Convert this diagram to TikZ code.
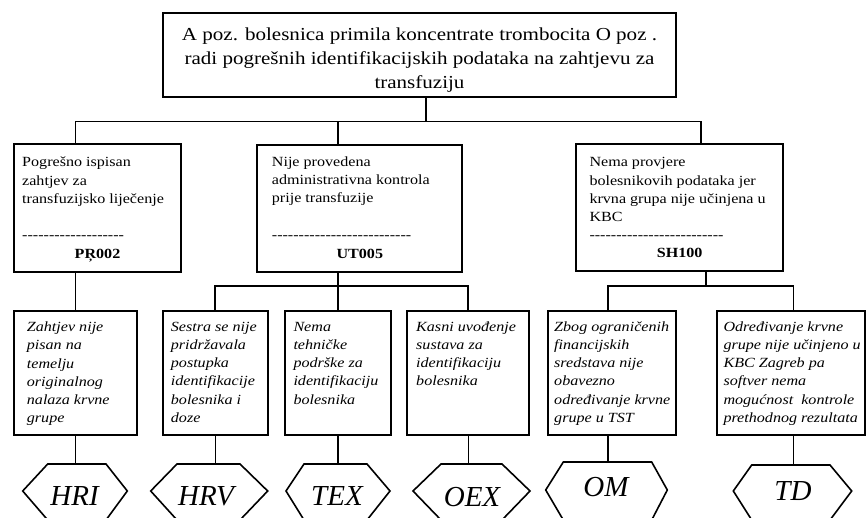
\documentclass[tikz,border=0pt]{standalone}
\usepackage{fontspec}
\setmainfont{Liberation Serif}[FakeStretch=1.15,Ligatures=TeXOff]
\newfontfamily\hexfont{Liberation Serif}[Ligatures=TeXOff]
\newcommand\dashrow[1]{\foreach\k in {1,...,#1}{\hbox{-}}}
\begin{document}
\begin{tikzpicture}[x=1pt,y=-1pt,
  box/.style={draw,line width=1.8pt,rectangle,inner sep=0pt,outer sep=0pt},
  link/.style={line width=1.6pt},
  hexline/.style={line width=1.6pt,line join=miter},
  toptext/.style={anchor=north,inner sep=0pt,align=center,font=\fontsize{18.3}{24}\selectfont},
  lvtwo/.style={anchor=north west,inner sep=0pt,align=left,font=\fontsize{14}{18.2}\selectfont},
  lvthree/.style={anchor=north west,inner sep=0pt,align=left,font=\fontsize{14}{18.2}\selectfont\itshape},
  code/.style={anchor=base,inner sep=0pt,font=\fontsize{14}{18.2}\selectfont\bfseries},
  hexlabel/.style={anchor=base,inner sep=0pt,font=\hexfont\fontsize{29}{30}\selectfont\itshape},
]
\useasboundingbox (0,0) rectangle (866,518);

% ---------- boxes ----------
\node[box,minimum width=513pt,minimum height=83.4pt] (top) at (419.5,55) {};
\node[box,minimum width=167pt,minimum height=127.7pt] (p1) at (97.5,208.15) {};
\node[box,minimum width=205pt,minimum height=127.3pt] (p2) at (359.8,208.35) {};
\node[box,minimum width=207.3pt,minimum height=127pt] (p3) at (679.65,207.5) {};

\node[box,minimum width=122.7pt,minimum height=123.7pt] (a) at (75.35,372.85) {};
\node[box,minimum width=105pt,minimum height=123.7pt] (b) at (215.2,372.85) {};
\node[box,minimum width=106pt,minimum height=123.7pt] (c) at (337.7,372.85) {};
\node[box,minimum width=122.3pt,minimum height=123.7pt] (d) at (468.15,372.85) {};
\node[box,minimum width=128pt,minimum height=123.7pt] (e) at (611.7,372.85) {};
\node[box,minimum width=148.3pt,minimum height=123.7pt] (f) at (790.85,372.85) {};

% ---------- texts ----------
\node[toptext] (toptxt) at (419.5,21.7) {\rule{0pt}{18.3pt}A poz. bolesnica primila koncentrate trombocita O poz .\\ radi pogrešnih identifikacijskih podataka na zahtjevu za\\ transfuziju};

\node[lvtwo] (p1txt) at (22,152.7) {\rule{0pt}{14pt}Pogrešno ispisan\\ zahtjev za\\ transfuzijsko liječenje\\[18.2pt] \dashrow{19}};
\node[code] (p1code) at (97.5,258.5) {PŖ002};
\node[lvtwo] (p2txt) at (271.7,152.2) {\rule{0pt}{14pt}Nije provedena\\ administrativna kontrola\\ prije transfuzije\\[18.2pt] \dashrow{26}};
\node[code] (p2code) at (359.8,258.5) {UT005};
\node[lvtwo] (p3txt) at (589.3,152.7) {\rule{0pt}{14pt}Nema provjere\\ bolesnikovih podataka jer\\ krvna grupa nije učinjena u\\ KBC\\ \dashrow{25}};
\node[code] (p3code) at (679.65,257.5) {SH100};

\node[lvthree] (atxt) at (26.7,317.5) {\rule{0pt}{14pt}Zahtjev nije\\ pisan na\\ temelju\\ originalnog\\ nalaza krvne\\ grupe};
\node[lvthree] (btxt) at (170.7,317) {\rule{0pt}{14pt}Sestra se nije\\ pridržavala\\ postupka\\ identifikacije\\ bolesnika i\\ doze};
\node[lvthree] (ctxt) at (293.3,317) {\rule{0pt}{14pt}Nema\\ tehničke\\ podrške za\\ identifikaciju\\ bolesnika};
\node[lvthree] (dtxt) at (416,317) {\rule{0pt}{14pt}Kasni uvođenje\\ sustava za\\ identifikaciju\\ bolesnika};
\node[lvthree] (etxt) at (554,317) {\rule{0pt}{14pt}Zbog ograničenih\\ financijskih\\ sredstava nije\\ obavezno\\ određivanje krvne\\ grupe u TST};
\node[lvthree] (ftxt) at (723.3,317) {\rule{0pt}{14pt}Određivanje krvne\\ grupe nije učinjeno u\\ KBC Zagreb pa\\ softver nema\\ mogućnost\ \ kontrole\\ prethodnog rezultata};

% ---------- hexagons ----------
\draw[hexline] (22.7,491) -- (47.7,464) -- (106,464) -- (127.3,491) -- (106,520) -- (47.7,520) -- cycle;
\node[hexlabel] (hri) at (74.5,505.5) {HRI};
\draw[hexline] (150.7,491) -- (177,464) -- (240,464) -- (267.7,491) -- (240,520) -- (177,520) -- cycle;
\node[hexlabel] (hrv) at (206,505) {HRV};
\draw[hexline] (286,491) -- (304,464) -- (367,464) -- (390,491) -- (367,520) -- (304,520) -- cycle;
\node[hexlabel] (tex) at (337,505) {TEX};
\draw[hexline] (413,491) -- (441,464) -- (502,464) -- (530,491) -- (502,520) -- (441,520) -- cycle;
\node[hexlabel] (oex) at (472,506) {OEX};
\draw[hexline] (545.7,490) -- (563.3,462) -- (651.7,462) -- (667.3,490) -- (651.7,520) -- (563.3,520) -- cycle;
\node[hexlabel] (om) at (606,496.5) {OM};
\draw[hexline] (733.3,491) -- (751.7,465) -- (830,465) -- (851.7,491) -- (830,520) -- (751.7,520) -- cycle;
\node[hexlabel] (td) at (793,500) {TD};

\coordinate (hriT) at (75.3,464);
\coordinate (hrvT) at (215.3,464);
\coordinate (texT) at (337.7,464);
\coordinate (oexT) at (468.3,464);
\coordinate (omT) at (608,462);
\coordinate (tdT) at (793.3,465);

% ---------- connectors ----------
\coordinate (j0) at (425.7,121.7);
\coordinate (hL) at (75.3,121.7);
\coordinate (hM) at (337.7,121.7);
\coordinate (hR) at (701,121.7);
\draw[link] (top.south -| j0) -- (j0);
\draw[link] (p1.north -| hL) -- (hL) -- (hR) -- (p3.north -| hR);
\draw[link] (hM) -- (p2.north -| hM);

\draw[link] (p1.south -| hL) -- (a.north -| hL);

\coordinate (m2) at (337.7,285.7);
\draw[link] (p2.south -| m2) -- (m2);
\draw[link] (b.north) -- (b.north |- m2) -- (d.north |- m2) -- (d.north);
\draw[link] (c.north |- m2) -- (c.north);

\coordinate (m3) at (705.7,286);
\draw[link] (p3.south -| m3) -- (m3);
\draw[link] (e.north -| omT) -- (omT |- m3) -- (tdT |- m3) -- (f.north -| tdT);

\draw[link] (a.south -| hriT) -- (hriT);
\draw[link] (b.south -| hrvT) -- (hrvT);
\draw[link] (c.south -| texT) -- (texT);
\draw[link] (d.south -| oexT) -- (oexT);
\draw[link] (e.south -| omT) -- (omT);
\draw[link] (f.south -| tdT) -- (tdT);
\end{tikzpicture}
\end{document}
